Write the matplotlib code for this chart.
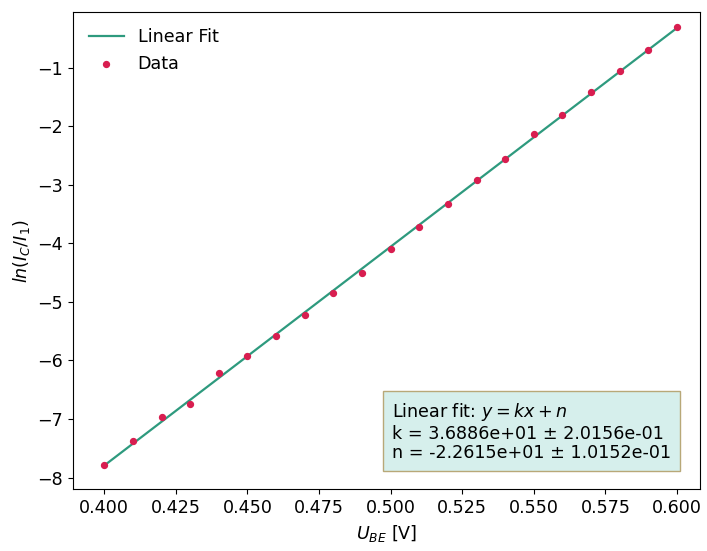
import numpy as np
import matplotlib
matplotlib.use("Agg")
import matplotlib.pyplot as plt

u_be = [0.40, 0.41, 0.42, 0.43, 0.44, 0.45, 0.46, 0.47, 0.48, 0.49, 0.50,
        0.51, 0.52, 0.53, 0.54, 0.55, 0.56, 0.57, 0.58, 0.59, 0.60]
ln_ic = [-7.79, -7.37, -6.96, -6.74, -6.22, -5.93, -5.58, -5.22, -4.85, -4.50, -4.10,
         -3.72, -3.32, -2.91, -2.56, -2.14, -1.80, -1.41, -1.06, -0.69, -0.31]

# values as printed in the box
k, dk = 3.6886e+01, 2.0156e-01
n, dn = -2.2615e+01, 1.0152e-01

x = np.array(u_be)
y = np.array(ln_ic)

# fit line drawn through the read-off points
slope, icpt = np.polyfit(x, y, 1)

plt.rcParams["font.size"] = 12.6

fig = plt.figure(figsize=(7.07, 5.51), dpi=100)
ax = fig.add_axes([0.103, 0.112, 0.887, 0.866])

ax.plot(x, slope * x + icpt, color="#2e9a7e", lw=1.6, label="Linear Fit")
ax.scatter(x, y, s=18, color="#d81e50", zorder=3, label="Data")

ax.set_xlim(0.389, 0.608)
ax.set_ylim(-8.2, -0.05)
ax.set_xticks([0.400, 0.425, 0.450, 0.475, 0.500, 0.525, 0.550, 0.575, 0.600])
ax.set_xlabel(r"$U_{BE}$ [V]")
ax.set_ylabel(r"$ln(I_C/I_1)$")

ax.legend(loc="upper left", frameon=False)

txt = (r"Linear fit: $y = kx + n$" + "\n"
       + "k = {:.4e} ± {:.4e}".format(k, dk) + "\n"
       + "n = {:.4e} ± {:.4e}".format(n, dn))
ax.text(0.509, 0.057, txt, transform=ax.transAxes, va="bottom",
        linespacing=1.1,
        bbox=dict(boxstyle="square,pad=0.5", facecolor="#d6efec", edgecolor="#b8a878"))

fig.savefig("out.png", dpi=100)
